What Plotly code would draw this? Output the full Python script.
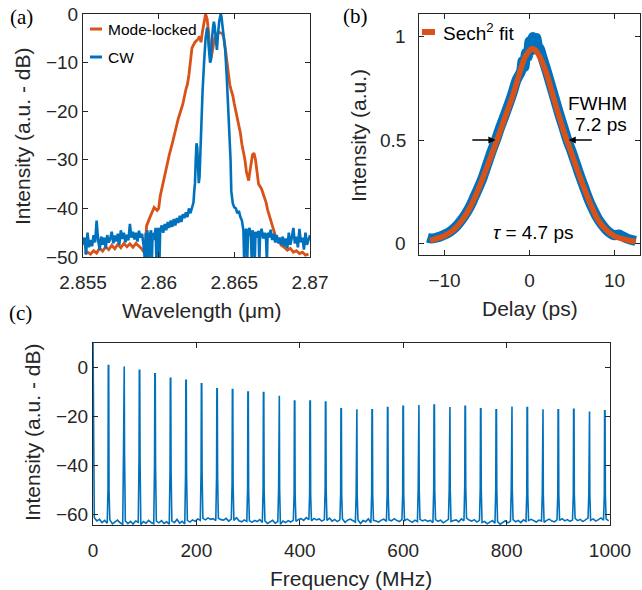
import numpy as np
import plotly.graph_objects as go

W, H = 642, 590
BLUE = '#0072BD'
ORANGE = '#D95319'
AX = '#262626'
FONT = 'Liberation Sans'
SERIF = 'Liberation Serif'

# ---- (a) optical spectra, wavelength in um, intensity in dB ----
ml_wl = [2.8551, 2.8553, 2.8555, 2.8557, 2.8559, 2.8561, 2.8563, 2.8565, 2.8567, 2.8569,
         2.8571, 2.8573, 2.8575, 2.8577, 2.8579, 2.8581, 2.8583, 2.8585, 2.8587, 2.8589,
         2.8591, 2.85915, 2.8592, 2.8594, 2.8596, 2.8597, 2.8599, 2.8600, 2.8601, 2.8603,
         2.8605, 2.8607, 2.8609, 2.8611, 2.8613, 2.8615, 2.8616, 2.8618, 2.8619, 2.8620,
         2.8621, 2.8622, 2.8624, 2.8626, 2.8627, 2.8628, 2.8629, 2.8630, 2.8631, 2.8632,
         2.8633, 2.8634, 2.86345, 2.8635, 2.8636, 2.8637, 2.8638, 2.8640, 2.8642, 2.8643,
         2.8644, 2.8645, 2.8646, 2.8647, 2.8648, 2.8649, 2.8650, 2.8652, 2.8654, 2.8655,
         2.8657, 2.8658, 2.8659, 2.86595, 2.8660, 2.8661, 2.8662, 2.8663, 2.8664, 2.8665,
         2.8666, 2.8668, 2.8669, 2.8671, 2.8672, 2.8674, 2.8675, 2.8677, 2.8678, 2.8680,
         2.8681, 2.8683, 2.8685, 2.8687, 2.8689, 2.8691, 2.8693, 2.8695, 2.8697, 2.8699]
ml_db = [-49.3, -49.0, -49.4, -48.7, -49.2, -48.2, -48.8, -47.9, -48.5, -47.6,
         -48.3, -47.4, -48.1, -47.2, -47.9, -47.3, -48.0, -47.2, -47.8, -48.4,
         -49.3, -45.5, -43.6, -42.0, -40.6, -39.8, -40.4, -40.0, -37.5, -34.5,
         -31.5, -29.0, -26.6, -24.0, -21.5, -19.5, -18.5, -15.5, -14.5, -12.5,
         -9.5, -7.0, -5.8, -5.2, -4.6, -5.8, -3.5, -1.2, 0.0, -1.0,
         -3.8, -8.0, -9.3, -8.5, -6.5, -5.0, -4.2, -3.8, -4.0, -4.8,
         -7.0, -10.0, -12.5, -14.5, -15.8, -16.8, -18.5, -21.5, -24.5, -26.8,
         -30.0, -32.5, -34.0, -34.3, -33.0, -30.5, -29.0, -28.6, -30.0, -32.5,
         -35.0, -36.0, -36.8, -38.8, -40.3, -42.5, -43.8, -45.5, -46.5, -47.0,
         -47.6, -48.0, -48.6, -48.2, -49.0, -48.7, -49.3, -49.0, -49.6, -49.4]

cw_wl = [2.8550, 2.8551, 2.8552, 2.8553, 2.8554, 2.8555, 2.8556, 2.8557, 2.8558, 2.8559,
         2.8560, 2.8561, 2.8562, 2.8563, 2.8564, 2.8565, 2.8566, 2.8567, 2.8568, 2.8569,
         2.8570, 2.8571, 2.8572, 2.8573, 2.8574, 2.8575, 2.8576, 2.8577, 2.8578, 2.8579,
         2.8580, 2.8581, 2.8582, 2.8583, 2.8584, 2.8585, 2.8586, 2.8587, 2.8588, 2.8589,
         2.8590, 2.8591, 2.85915, 2.8592, 2.85925, 2.8593, 2.85935, 2.8594, 2.8595, 2.85955,
         2.8596, 2.8597, 2.8598, 2.85985, 2.8599, 2.8600, 2.86005, 2.8601, 2.8602, 2.8603,
         2.8604, 2.8605, 2.8606, 2.8607, 2.8608, 2.8609, 2.8610, 2.8611, 2.8612, 2.8613,
         2.8614, 2.8615, 2.8616, 2.8617, 2.8618, 2.8619, 2.8620, 2.8621, 2.8622, 2.8623,
         2.86235, 2.8624, 2.86245, 2.8625, 2.86255, 2.8626, 2.86265, 2.8627, 2.86275, 2.8628,
         2.8629, 2.8630, 2.8631, 2.8632, 2.86325, 2.8633, 2.8634, 2.86345, 2.8635, 2.8636,
         2.86365, 2.8637, 2.8638, 2.86385, 2.8639, 2.8640, 2.8641, 2.86415, 2.8642, 2.8643,
         2.8644, 2.8645, 2.8646, 2.8647, 2.86475, 2.8648, 2.8649, 2.8650, 2.8651, 2.8652,
         2.8653, 2.8654, 2.8655, 2.8656, 2.86565, 2.8657, 2.8658, 2.86585, 2.8659, 2.8660,
         2.8661, 2.86615, 2.8662, 2.8663, 2.86635, 2.8664, 2.8665, 2.8666, 2.86665, 2.8667,
         2.8668, 2.8669, 2.8670, 2.8671, 2.86715, 2.8672, 2.8673, 2.8674, 2.8675, 2.8676,
         2.8677, 2.8678, 2.8679, 2.8680, 2.8681, 2.8682, 2.8683, 2.8684, 2.8685, 2.8686,
         2.8687, 2.8688, 2.8689, 2.8690, 2.8691, 2.8692, 2.8693, 2.8694, 2.8695, 2.8696,
         2.8697, 2.8698, 2.8699, 2.8700]
cw_db = [-47.5, -46.0, -49.5, -45.0, -48.0, -46.5, -47.8, -45.5, -47.0, -42.5,
         -46.5, -48.5, -45.8, -47.5, -46.0, -48.2, -45.5, -47.0, -46.2, -44.8,
         -47.2, -45.6, -46.8, -45.2, -47.5, -44.5, -46.3, -45.0, -47.0, -45.4,
         -46.6, -43.2, -46.0, -44.8, -46.4, -45.0, -46.8, -44.6, -46.0, -45.2,
         -47.5, -51.0, -45.0, -51.0, -44.5, -47.0, -51.0, -45.5, -44.5, -51.0,
         -45.0, -46.5, -44.0, -51.0, -45.2, -44.0, -51.0, -44.8, -43.5, -45.0,
         -43.2, -44.5, -42.8, -44.0, -42.5, -43.8, -42.2, -43.5, -42.0, -43.0,
         -41.5, -42.8, -41.2, -42.0, -40.8, -41.8, -40.0, -41.0, -39.6, -38.8,
         -36.5, -34.8, -30.0, -26.6, -27.5, -33.5, -34.8, -33.5, -28.0, -23.0,
         -16.0, -10.0, -5.0, -2.8, -3.5, -6.5, -10.0, -9.5, -6.0, -2.5,
         -1.6, -2.5, -6.5, -7.4, -5.0, -1.5, 0.0, -0.5, -2.0, -5.0,
         -7.5, -13.0, -19.5, -25.0, -30.0, -36.5, -39.0, -39.8, -40.0, -41.0,
         -40.5, -41.8, -42.5, -44.5, -51.0, -45.0, -44.2, -51.0, -45.5, -44.0,
         -46.0, -51.0, -44.5, -45.6, -51.0, -44.8, -46.0, -44.6, -51.0, -45.5,
         -44.2, -46.2, -45.0, -46.5, -51.0, -45.0, -46.0, -44.4, -46.5, -45.2,
         -47.0, -45.5, -47.2, -46.0, -47.5, -45.8, -47.8, -46.2, -48.2, -45.0,
         -47.5, -46.0, -44.0, -47.2, -45.8, -48.0, -44.2, -47.0, -46.0, -48.5,
         -45.0, -47.5, -46.5, -45.5]

# ---- (b) autocorrelation trace and sech^2 fit ----
ac_delay = [-12.0, -11.5, -11.0, -10.5, -10.0, -9.5, -9.0, -8.5, -8.0, -7.5,
            -7.0, -6.5, -6.0, -5.5, -5.0, -4.5, -4.0, -3.5, -3.0, -2.5,
            -2.0, -1.5, -1.0, -0.8, -0.6, -0.4, -0.2, 0.0, 0.2, 0.4,
            0.6, 0.8, 1.0, 1.2, 1.5, 2.0, 2.5, 3.0, 3.5, 4.0,
            4.5, 5.0, 5.5, 6.0, 6.5, 7.0, 7.5, 8.0, 8.5, 9.0,
            9.5, 10.0, 10.5, 11.0, 11.5, 12.0, 12.5]
ac_int = [0.030, 0.026, 0.030, 0.036, 0.045, 0.055, 0.070, 0.090, 0.115, 0.145,
          0.180, 0.225, 0.270, 0.320, 0.380, 0.440, 0.495, 0.555, 0.610, 0.665,
          0.725, 0.790, 0.830, 0.880, 0.850, 0.920, 0.900, 0.975, 0.930, 0.995,
          0.940, 0.990, 0.950, 0.940, 0.900, 0.835, 0.765, 0.695, 0.625, 0.560,
          0.495, 0.440, 0.380, 0.320, 0.265, 0.210, 0.165, 0.125, 0.095, 0.070,
          0.052, 0.042, 0.046, 0.036, 0.026, 0.020, 0.015]

fit_delay = [-11.7, -11.0, -10.0, -9.0, -8.0, -7.0, -6.0, -5.0, -4.0, -3.0,
             -2.0, -1.0, -0.5, 0.0, 0.3, 0.6, 1.0, 1.5, 2.0, 3.0,
             4.0, 5.0, 6.0, 7.0, 8.0, 9.0, 10.0, 11.0, 12.5]
fit_int = [0.016, 0.025, 0.040, 0.065, 0.110, 0.175, 0.265, 0.370, 0.480, 0.595,
           0.710, 0.845, 0.900, 0.930, 0.940, 0.935, 0.915, 0.875, 0.820, 0.680,
           0.545, 0.430, 0.315, 0.210, 0.120, 0.068, 0.038, 0.024, 0.011]
ac_ticks = [0, 0.5, 1]
ac_ticktext = ['0', '0.5', '1']

# ---- (c) RF spectrum ----
rf_peak_mhz = [30, 60, 90, 120, 150, 180, 210, 240, 270, 300, 330,
               360, 390, 420, 450, 480, 510, 540, 570, 600, 630, 660,
               690, 720, 750, 780, 810, 840, 870, 900, 930, 960, 990]
rf_peak_db = [0.8, 0.4, -1.2, -2.6, -4.4, -5.3, -6.7, -8.7, -9.1, -10.1, -10.3,
              -11.6, -13.8, -13.8, -14.2, -16.9, -17.1, -17.3, -16.4, -15.9, -15.4, -15.4,
              -16.2, -15.9, -16.9, -17.3, -16.0, -16.4, -17.1, -17.3, -17.1, -18.0, -17.8]
rf_shoulder_db = [-50, -35, -38, -40, -42, -44, -43, -45, -48, -50, -50,
                  -50, -52, -52, -50, -52, -52, -52, -52, -52, -50, -50,
                  -50, -49, -50, -50, -50, -52, -52, -52, -52, -52, -52]
rf_floor_db = [
    -61.5, -62.8, -62.2, -63.5, -62.6, -63.8, -62.4, -64.0, -63.2, -62.5,
    -63.6, -64.2, -62.8, -63.9, -63.0, -64.1, -62.9, -63.4, -64.3, -63.1,
    -63.8, -62.6, -63.5, -64.0, -62.9, -63.6, -62.7, -63.9, -63.2, -64.2,
    -62.8, -63.5, -62.2, -63.7, -63.0, -64.1, -62.6, -63.3, -62.4, -63.0,
    -62.0, -62.6, -61.8, -62.4, -61.6, -62.2, -61.9, -62.7, -61.7, -62.3,
    -62.5, -61.8, -62.9, -62.1, -62.6, -61.5, -62.8, -63.2, -62.4, -63.0,
    -62.7, -63.4, -62.6, -63.1, -62.3, -63.5, -62.8, -63.9, -63.2, -62.6,
    -63.8, -63.1, -64.2, -62.9, -63.5, -62.7, -63.3, -62.5, -63.0, -62.2,
    -61.9, -62.6, -61.5, -62.3, -62.8, -61.8, -62.4, -62.0, -62.9, -62.3,
    -62.6, -61.7, -62.9, -62.2, -63.1, -62.4, -62.0, -63.4, -62.5, -62.1,
    -62.8, -63.3, -62.4, -63.9, -62.7, -63.2, -62.0, -63.6, -62.6, -62.9,
    -63.3, -62.5, -62.1, -63.0, -62.4, -62.8, -61.9, -62.6, -63.1, -62.3,
    -62.7, -62.1, -62.9, -63.4, -62.5, -63.1, -62.2, -62.8, -62.4, -63.0,
    -62.6, -63.5, -62.3, -63.0, -62.5, -63.6, -62.8, -62.2, -63.1, -62.7,
    -62.4, -63.2, -62.0, -62.8, -61.7, -62.5, -62.9, -62.3, -63.3, -62.6,
    -63.5, -63.0, -64.0, -63.3, -62.7, -63.8, -63.1, -64.2, -63.4, -62.8,
    -63.6, -62.9, -62.3, -63.2, -62.6, -63.5, -62.4, -63.0, -62.7, -62.2,
    -62.8, -63.3, -62.5, -62.9, -63.4, -62.6, -62.1, -62.9, -63.2, -62.4,
    -62.6, -61.9, -62.8, -62.3, -63.0, -62.5, -61.8, -62.7, -62.2, -63.1,
    -62.4, -61.7, -62.6, -62.0, -62.9, -62.3, -61.6, -62.5, -62.0, -62.8]
rf_floor_mhz = np.arange(2.5, 1000, 5)
rf_dc_db = 12.0


def px(x):
    return x / W


def py(y):
    return 1 - y / H


# assemble the RF trace: DC line, noise floor, and each comb line with its shoulder
pk = np.array(rf_peak_mhz, dtype=float)
rf_f = np.concatenate([[0.0], rf_floor_mhz, pk - 1.0, pk - 0.4, pk, pk + 0.4, pk + 1.0])
rf_v = np.concatenate([[rf_dc_db], rf_floor_db, rf_shoulder_db, rf_peak_db, rf_peak_db,
                       rf_peak_db, rf_shoulder_db])
order = np.argsort(rf_f, kind='stable')
rf_f, rf_v = rf_f[order], rf_v[order]

fig = go.Figure()

fig.add_trace(go.Scatter(x=ml_wl, y=ml_db, mode='lines', line=dict(color=ORANGE, width=2.8),
                         xaxis='x', yaxis='y', showlegend=False))
fig.add_trace(go.Scatter(x=cw_wl, y=cw_db, mode='lines', line=dict(color=BLUE, width=2.6),
                         xaxis='x', yaxis='y', showlegend=False))

fig.add_trace(go.Scatter(x=ac_delay, y=ac_int, mode='lines', line=dict(color=BLUE, width=10, shape='spline'),
                         xaxis='x2', yaxis='y2', showlegend=False))
fig.add_trace(go.Scatter(x=fit_delay, y=fit_int, mode='lines', line=dict(color=ORANGE, width=5.5, shape='spline'),
                         xaxis='x2', yaxis='y2', showlegend=False))

fig.add_trace(go.Scatter(x=rf_f, y=rf_v, mode='lines', line=dict(color=BLUE, width=1.6),
                         xaxis='x3', yaxis='y3', showlegend=False))


def axis(dom, rng, tickvals, ticktext=None, anchor=None, standoff=0, labels=True):
    d = dict(domain=dom, range=rng, tickvals=tickvals, showline=True, linecolor=AX, linewidth=1,
             mirror='ticks', ticks='inside', ticklen=5, tickcolor=AX, tickwidth=1,
             showgrid=False, zeroline=False, anchor=anchor, automargin=False,
             ticklabeloverflow='allow', ticklabelstandoff=standoff, showticklabels=labels,
             tickfont=dict(family=FONT, size=19, color=AX))
    if ticktext is not None:
        d['ticktext'] = ticktext
    return d


fig.update_layout(
    width=W, height=H, margin=dict(l=0, r=0, t=0, b=0, pad=0, autoexpand=False),
    paper_bgcolor='white', plot_bgcolor='white', showlegend=False,
    xaxis=axis([px(83), px(310)], [2.855, 2.87], [2.855, 2.86, 2.865, 2.87],
               ['2.855', '2.86', '2.865', '2.87'], anchor='y', standoff=8),
    yaxis=axis([py(257), py(14)], [-50, 0], [-50, -40, -30, -20, -10, 0], anchor='x'),
    xaxis2=axis([px(419), px(640)], [-13, 13], [-10, 0, 10], anchor='y2', standoff=8),
    yaxis2=axis([py(255), py(14)], [-0.053, 1.106], ac_ticks, anchor='x2', labels=False),
    xaxis3=axis([px(93), px(610)], [0, 1000], [0, 200, 400, 600, 800, 1000], anchor='y3', standoff=8),
    yaxis3=axis([py(525), py(343)], [-64.5, 10], [-60, -40, -20, 0], anchor='x3'),
)

ann = []


def label(text, x, y, size=21, angle=0, family=FONT, color=AX, xanchor='center'):
    ann.append(dict(text=text, x=px(x), y=py(y), xref='paper', yref='paper', showarrow=False,
                    xanchor=xanchor, yanchor='middle', textangle=angle,
                    font=dict(family=family, size=size, color=color)))


# tick labels of the (b) intensity axis, placed at their tick values
for v, t in zip(ac_ticks, ac_ticktext):
    ann.append(dict(text=t, x=px(408), y=v, xref='paper', yref='y2', showarrow=False,
                    xanchor='right', yanchor='middle', font=dict(family=FONT, size=19, color=AX)))

# axis titles
label('Wavelength (μm)', 202, 310)
label('Intensity (a.u. - dB)', 22, 137, angle=-90)
label('Delay (ps)', 530, 308)
label('Intensity (a.u.)', 358, 135, angle=-90)
label('Frequency (MHz)', 351, 578)
label('Intensity (a.u. - dB)', 32, 433, angle=-90)

# panel tags
label('(a)', 22, 17, size=21, family=SERIF, color='black')
label('(b)', 355, 16, size=21, family=SERIF, color='black')
label('(c)', 21, 313, size=21, family=SERIF, color='black')

# legends
label('Mode-locked', 106, 29, size=15.5, color='black', xanchor='left')
label('CW', 106, 57, size=15.5, color='black', xanchor='left')
label('Sech<sup>2</sup> fit', 441, 32, size=19, color='black', xanchor='left')

# annotations in (b)
label('FWHM', 597, 103, size=19, color='black')
label('7.2 ps', 601, 124, size=19, color='black')
label('<i>τ</i> = 4.7 ps', 533, 232, size=19, color='black')

for tail, head in [(-6.9, -4.0), (7.5, 4.6)]:
    ann.append(dict(x=head, y=0.5, ax=tail, ay=0.5, xref='x2', yref='y2', axref='x2', ayref='y2',
                    showarrow=True, arrowhead=2, arrowsize=1.1, arrowwidth=1.3, arrowcolor='black',
                    text=''))

fig.update_layout(annotations=ann)

shapes = []
for y0, col, lw in [(29, ORANGE, 3), (57, BLUE, 3), (32, ORANGE, 6)]:
    x0, x1 = (90, 102) if lw == 3 else (422, 435)
    shapes.append(dict(type='line', xref='paper', yref='paper', x0=px(x0), x1=px(x1),
                       y0=py(y0), y1=py(y0), line=dict(color=col, width=lw)))
fig.update_layout(shapes=shapes)

# the page body would otherwise add its default 8 px margin around the figure
fig.write_html('out.html', config={'displayModeBar': False},
               post_script="document.body.style.margin='0';")
